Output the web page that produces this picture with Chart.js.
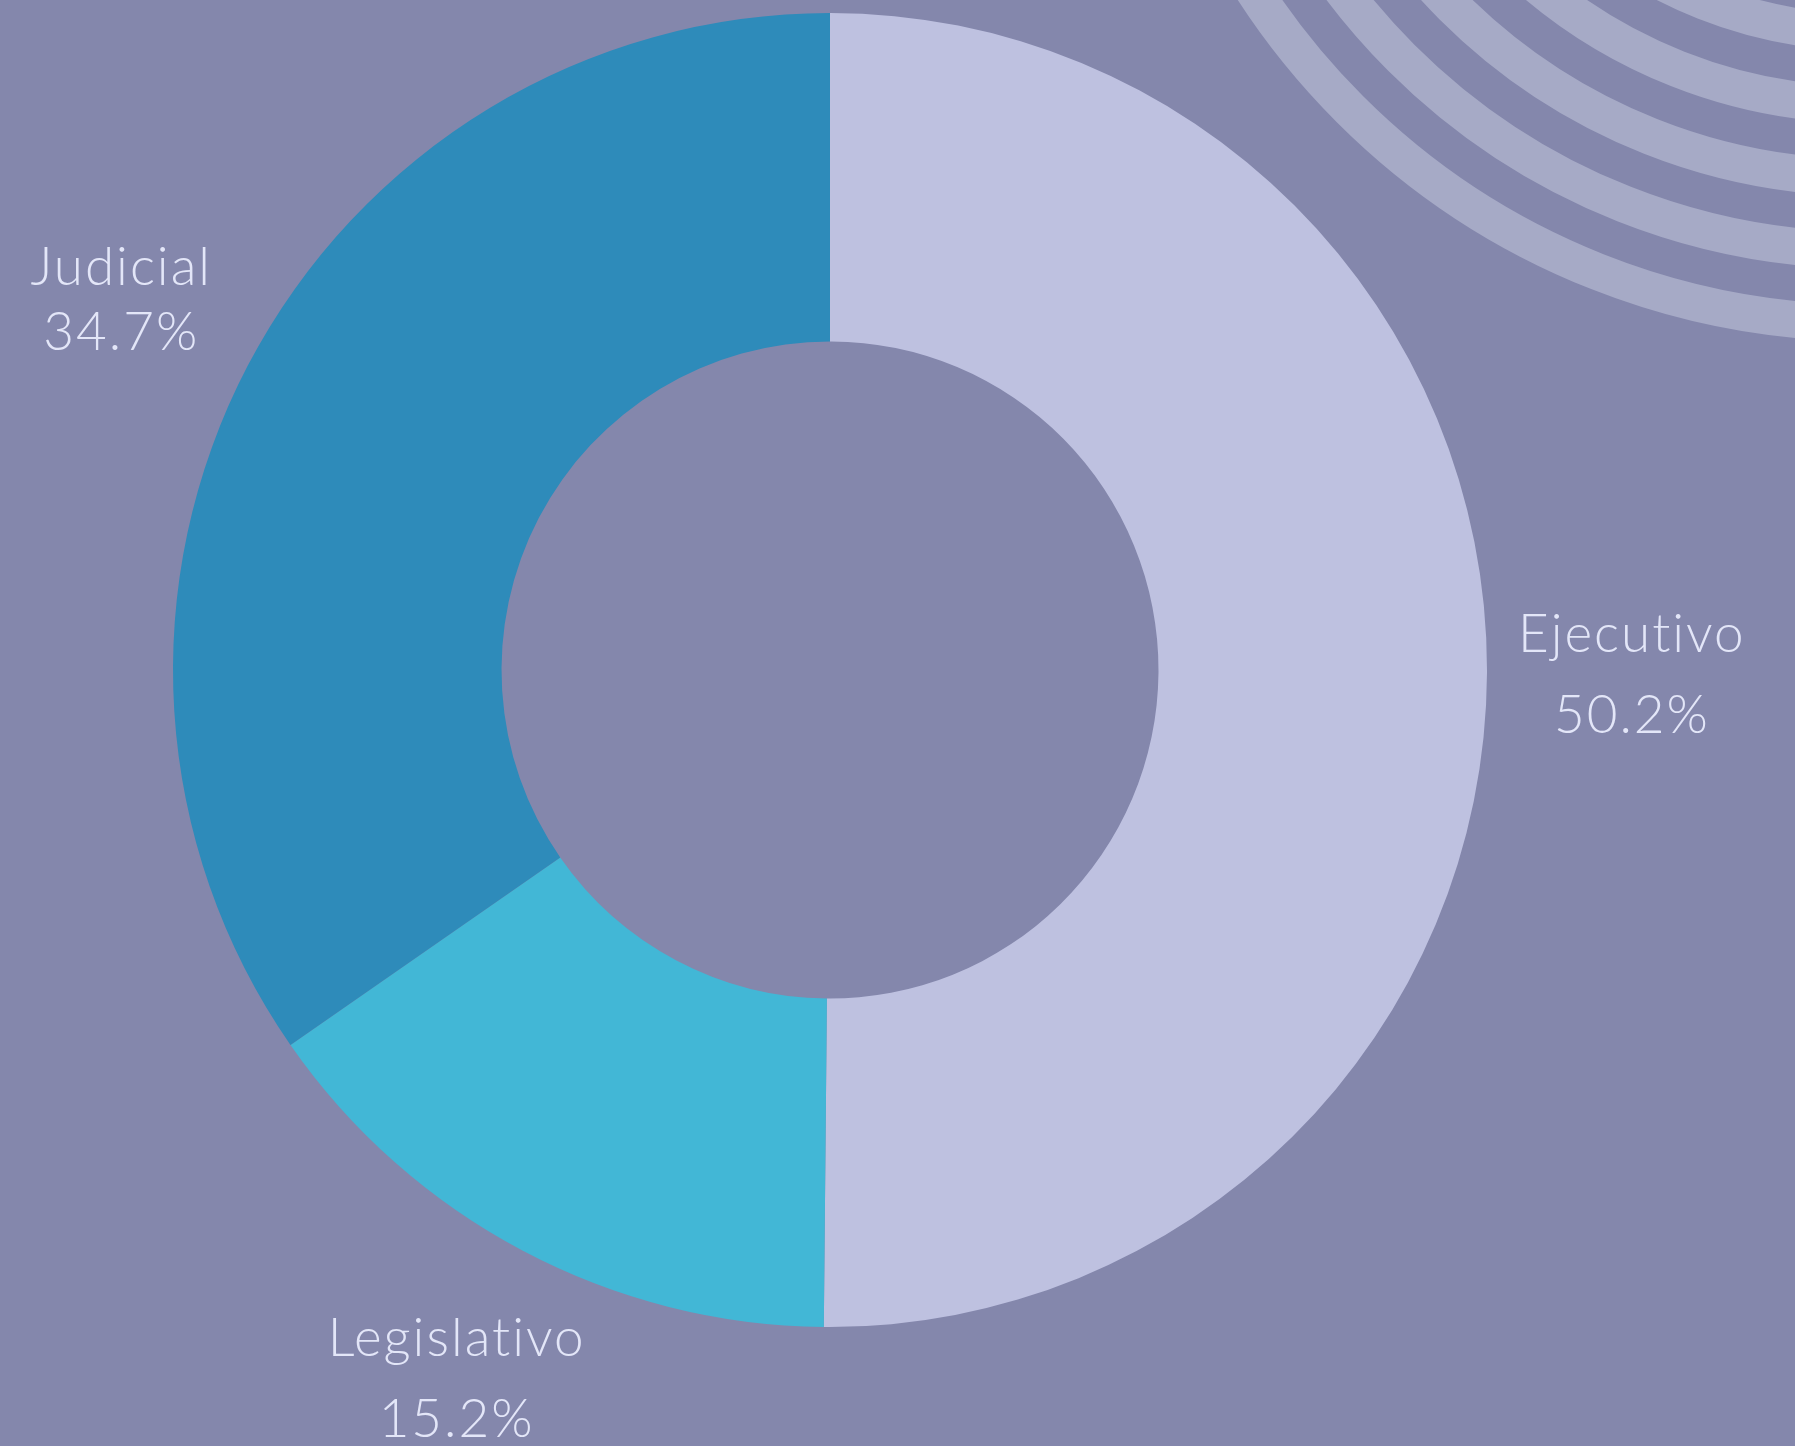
<!DOCTYPE html>
<html>
<head>
<meta charset="utf-8">
<script src="https://cdn.jsdelivr.net/npm/chart.js@4.4.1/dist/chart.umd.min.js"></script>
<style>
  html, body { margin: 0; padding: 0; background: #8487AC; overflow: hidden; }
  canvas { display: block; }
</style>
</head>
<body>
<canvas id="c" width="1795" height="1446"></canvas>
<script>
// ---- data ----
const categories = ["Ejecutivo", "Legislativo", "Judicial"];
const values = [50.2, 15.2, 34.7];
const colors = ["#BEC1E0", "#42B7D6", "#2E8BBA"];

// ---- style ----
const BG = "#8487AC";
const TEXT = "#E3E6F8";
const FONT = '300 53px Lato, "Open Sans", sans-serif';
const CAP_H = 38;
const LABEL_FACTOR = 1.219;
const lineGaps = [81, 81, 65];

const decoRings = {
  cx: 1866, cy: -407, outer: 748.4, step: 72.7, width: 37, count: 5, color: "#A6AAC6"
};

const bgPlugin = {
  id: "bg",
  beforeDraw(chart) {
    const ctx = chart.ctx;
    ctx.save();
    ctx.fillStyle = BG;
    ctx.fillRect(0, 0, chart.width, chart.height);
    ctx.strokeStyle = decoRings.color;
    ctx.lineWidth = decoRings.width;
    for (let i = 0; i < decoRings.count; i++) {
      const r = decoRings.outer - i * decoRings.step - decoRings.width / 2;
      ctx.beginPath();
      ctx.arc(decoRings.cx, decoRings.cy, r, 0, Math.PI * 2);
      ctx.stroke();
    }
    ctx.restore();
  }
};

const labelPlugin = {
  id: "outLabels",
  afterDatasetsDraw(chart) {
    const ctx = chart.ctx;
    const meta = chart.getDatasetMeta(0);
    ctx.save();
    ctx.fillStyle = TEXT;
    ctx.font = FONT;
    ctx.textAlign = "center";
    ctx.textBaseline = "alphabetic";
    if ("letterSpacing" in ctx) ctx.letterSpacing = "2px";
    meta.data.forEach((arc, i) => {
      const p = arc.getProps(["x", "y", "startAngle", "endAngle", "outerRadius"], true);
      const mid = (p.startAngle + p.endAngle) / 2;
      const r = p.outerRadius * LABEL_FACTOR;
      const ax = p.x + Math.cos(mid) * r;
      const ay = p.y + Math.sin(mid) * r;
      const gap = lineGaps[i];
      const b1 = ay - (gap - CAP_H) / 2;
      ctx.fillText(categories[i], ax + 1, b1);
      ctx.fillText(values[i].toFixed(1) + "%", ax + 1, b1 + gap);
    });
    ctx.restore();
  }
};

new Chart(document.getElementById("c"), {
  type: "doughnut",
  data: {
    labels: categories,
    datasets: [{
      data: values,
      backgroundColor: colors,
      borderWidth: 0,
      hoverOffset: 0
    }]
  },
  options: {
    responsive: false,
    devicePixelRatio: 1,
    animation: false,
    cutout: "50%",
    layout: { padding: { left: 173, right: 308, top: 13, bottom: 119 } },
    plugins: {
      legend: { display: false },
      tooltip: { enabled: false }
    }
  },
  plugins: [bgPlugin, labelPlugin]
});
</script>
</body>
</html>
